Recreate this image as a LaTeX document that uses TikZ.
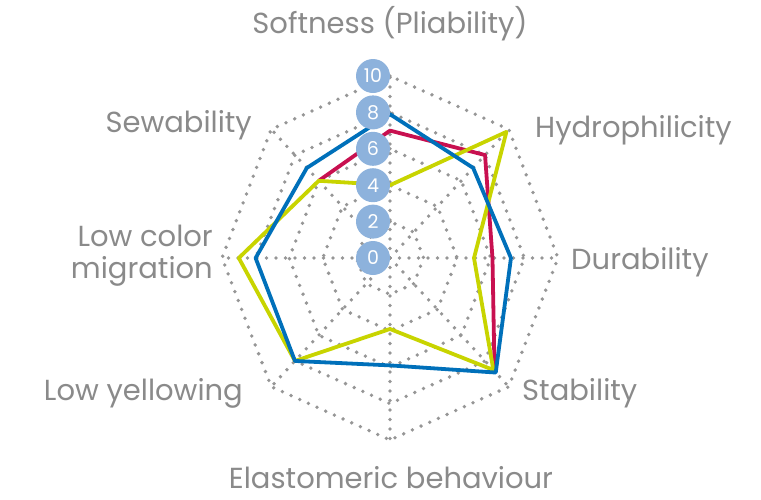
\documentclass[tikz,border=0pt]{standalone}
\usepackage{fontspec}
\setmainfont{Poppins}
\usetikzlibrary{positioning}
\definecolor{gridgray}{RGB}{150,150,150}
\definecolor{textgray}{RGB}{138,138,138}
\definecolor{tickblue}{RGB}{141,178,220}
\definecolor{serblue}{RGB}{0,112,186}
\definecolor{serred}{RGB}{200,16,80}
\definecolor{seryellow}{RGB}{200,212,0}

\begin{document}
\begin{tikzpicture}[x=1pt,y=1pt,
    grid/.style={draw=gridgray,line width=3.8pt,line cap=round,dash pattern=on 0pt off 9.5pt},
    series/.style={line width=3.8pt,line join=round},
    axislabel/.style={text=textgray,font=\fontsize{29}{32}\selectfont,inner sep=0pt},
    tick/.style={circle,fill=tickblue,text=white,minimum size=34pt,inner sep=0pt,font=\fontsize{19}{19}\selectfont}]
   \useasboundingbox (0,0) rectangle (761,-499);
   \begin{scope}[shift={(390pt,-258pt)},x=16.8pt,y=18.2pt]
      % grid
      \foreach \a in {0,45,...,315}
         \draw[grid] (0,0) -- (\a:10);
      \foreach \r in {2,4,...,10}
         \draw[grid] (90:\r) \foreach \a in {135,180,...,405} { -- (\a:\r) } -- cycle;
      % series
      \draw[series,serred] (135:6) -- (90:7) -- (45:8) -- (0:6.1) -- (-45:8.8);
      \draw[series,seryellow] (90:4) -- (45:9.8) -- (0:5) -- (-45:8.7) -- (-90:3.9)
         -- (-135:8) -- (180:9) -- (135:6) -- cycle;
      \draw[series,serblue] (90:7.9) -- (45:7) -- (0:7.2) -- (-45:8.9) -- (-90:5.9)
         -- (-135:8) -- (180:8) -- (135:7) -- cycle;
      % scale
      \foreach \v in {0,2,...,10}
         \node[tick] (tick\v) at ([xshift=-17pt]90:\v) {\v};
   \end{scope}
   \node[axislabel,anchor=base] (soft) at (390,-33) {Softness (Pliability)};
   \node[axislabel,anchor=base west] (hydro) at (535,-137) {Hydrophilicity};
   \node[axislabel,anchor=base west] (dur) at (571,-269) {Durability};
   \node[axislabel,anchor=base west] (stab) at (522,-400) {Stability};
   \node[axislabel,anchor=base] (elast) at (391,-488) {Elastomeric behaviour};
   \node[axislabel,anchor=base east] (yell) at (243,-400) {Low yellowing};
   \node[axislabel,anchor=east,align=right] (migr) at (213,-256) {Low color\\migration};
   \node[axislabel,anchor=base east] (sew) at (252,-132) {Sewability};
\end{tikzpicture}
\end{document}
